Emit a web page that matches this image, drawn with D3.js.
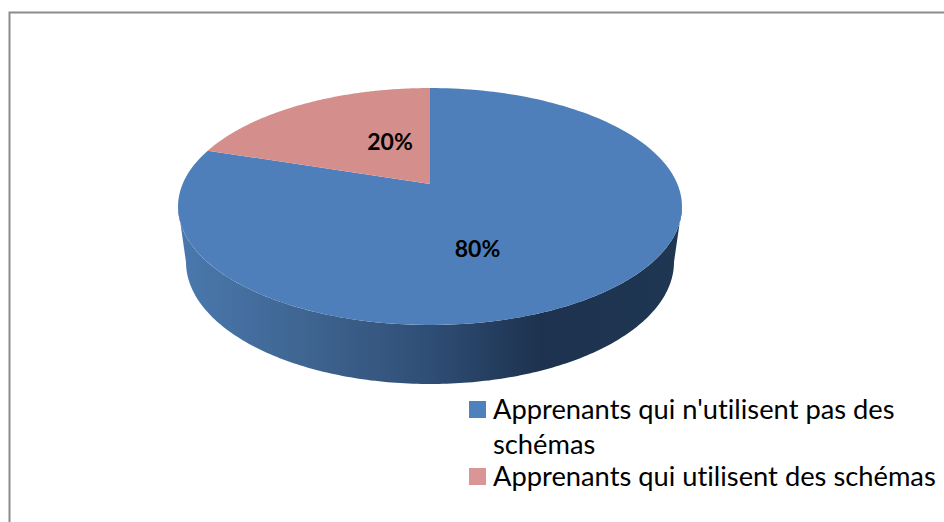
<!DOCTYPE html>
<html><head><meta charset="utf-8">
<script src="https://cdn.jsdelivr.net/npm/d3@7"></script>
<style>html,body{margin:0;padding:0;background:#fff}svg{display:block}text{font-variant-ligatures:none}</style></head>
<body><div id="chart"></div>
<script>
const categories = ["Apprenants qui n'utilisent pas des schémas", "Apprenants qui utilisent des schémas"];
const values = [80, 20];
const labels = ["80%", "20%"];
const colors = ["#4f7fba", "#d48f8c"];
const legendColors = ["#4f81bd", "#d99694"];
const sideStops = [[0,"#4a79ae"],[0.25,"#3f6591"],[0.5,"#2f4e75"],[0.72,"#1d324f"],[1,"#1f3752"]];

const W = 944, H = 522;
const svg = d3.select("#chart").append("svg").attr("width", W).attr("height", H);
svg.append("path").attr("d", `M9.5 ${H} V12.5 H${W}`).attr("fill", "none").attr("stroke", "#8c8c8c").attr("stroke-width", 2);

const defs = svg.append("defs");
const grad = defs.append("linearGradient").attr("id", "side")
  .attr("gradientUnits", "userSpaceOnUse").attr("x1", 178).attr("x2", 682).attr("y1", 0).attr("y2", 0);
sideStops.forEach(s => grad.append("stop").attr("offset", s[0]).attr("stop-color", s[1]));

// perspective projection of the unit-circle pie
const cx = 430, cy = 184, A = 247.4, B = 114.2, k = 0.19;
const project = a => {
  const X = Math.sin(a), Y = Math.cos(a), d = 1 + k * Y;
  return [cx + A * X / d, cy - B * Y / d];
};
const arcs = d3.pie().sort(null).value(d => d)(values);
const line = d3.line();
const samples = (a0, a1) => d3.range(0, 181).map(i => project(a0 + (a1 - a0) * i / 180));

// side wall
const ex = 430, ey = 206.5, rx = 252, ry = 118.5, lrx = 244, ley = 262, lry = 122;
const ell = (x, y, a, b, t) => [x + a * Math.cos(t), y + b * Math.sin(t)];
const upper = d3.range(0, 181).map(i => ell(ex, ey, rx, ry, Math.PI * i / 180));
const lower = d3.range(180, -1, -1).map(i => ell(ex, ley, lrx, lry, Math.PI * i / 180));
svg.append("path").attr("d", line(upper.concat(lower)) + "Z").attr("fill", "url(#side)");

// top face
svg.selectAll("path.slice").data(arcs).join("path").attr("class", "slice")
  .attr("d", d => line([[cx, cy]].concat(samples(d.startAngle, d.endAngle))) + "Z")
  .attr("fill", (d, i) => colors[i]);

// data labels
const labelPos = [[477.5, 248], [390, 141]];
svg.selectAll("text.val").data(labels).join("text").attr("class", "val")
  .attr("x", (d, i) => labelPos[i][0]).attr("y", (d, i) => labelPos[i][1])
  .attr("text-anchor", "middle").attr("dominant-baseline", "central")
  .attr("font-family", "Lato").attr("font-weight", 700).attr("font-size", 23).attr("fill", "#000")
  .text(d => d);

// legend
const legendRows = [
  {i: 0, lines: ["Apprenants qui n'utilisent pas des", "schémas"], y: 409.5},
  {i: 1, lines: ["Apprenants qui utilisent des schémas"], y: 476.5}
];
legendRows.forEach(r => {
  svg.append("rect").attr("x", 469).attr("y", r.y - 8.5).attr("width", 17).attr("height", 17).attr("fill", legendColors[r.i]);
  r.lines.forEach((t, j) => svg.append("text").attr("x", 493).attr("y", r.y + 9.5 + j * 35)
    .attr("font-family", "Lato").attr("font-size", 27.3).attr("fill", "#000").text(t));
});
</script></body></html>
